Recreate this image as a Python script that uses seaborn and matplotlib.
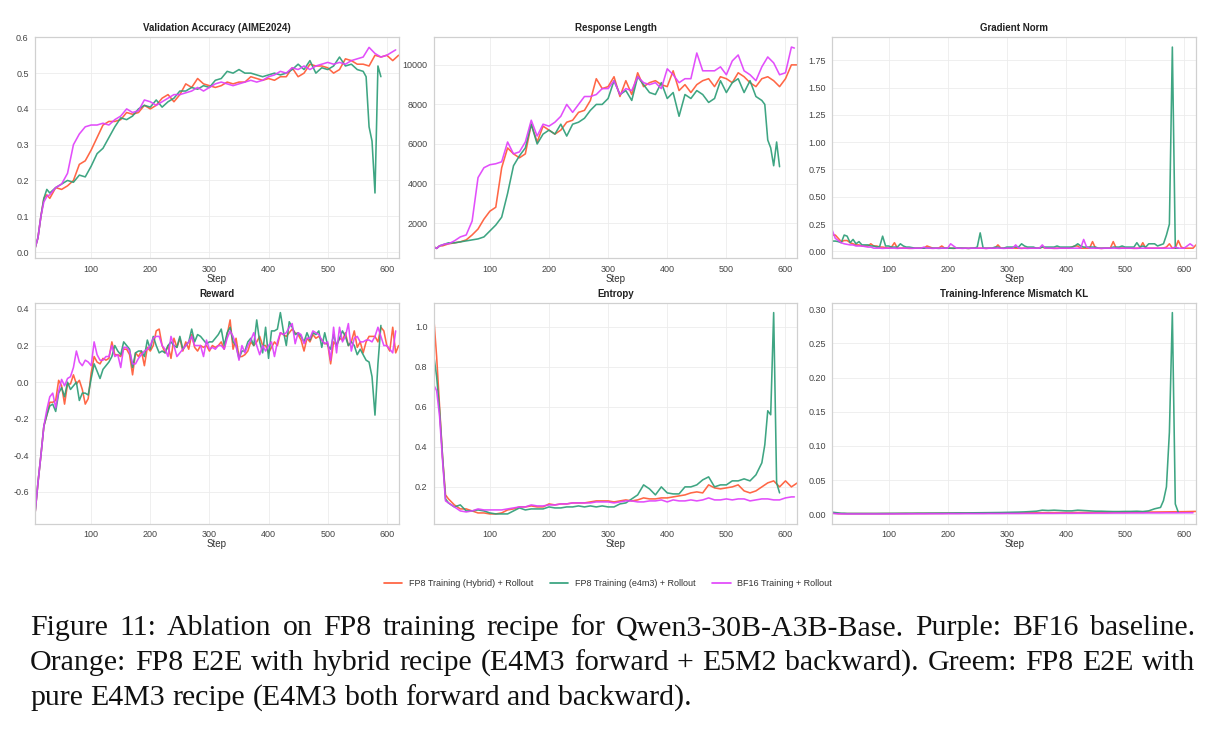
import matplotlib
matplotlib.use("Agg")
import matplotlib.pyplot as plt
from matplotlib.lines import Line2D
import numpy as np
import pandas as pd
import seaborn as sns

# --- DATA ---
RUNS = ["FP8 Training (Hybrid) + Rollout", "FP8 Training (e4m3) + Rollout", "BF16 Training + Rollout"]
COLORS = ["#FF5A36", "#2E9E78", "#E040FB"]

# coarse step grids (every 10 steps, denser at the start / around the green blow-up)
HEAD = [5, 10, 15, 20, 25, 30]
STEPS_HYB = HEAD + list(range(40, 621, 10))
STEPS_E4M3 = HEAD + list(range(40, 561, 10)) + [565, 570, 575, 580, 585, 590]
STEPS_BF16 = HEAD + list(range(40, 611, 10)) + [615]
# fine step grids (every 5 steps)
FINE_HYB = list(range(5, 621, 5))
FINE_E4M3 = list(range(5, 591, 5))
FINE_BF16 = list(range(5, 616, 5))

acc_hyb = [0.01, 0.04, 0.10, 0.15, 0.16, 0.15, 0.18, 0.175, 0.185, 0.20,
           0.245, 0.255, 0.285, 0.32, 0.355, 0.365, 0.365, 0.37, 0.39, 0.385,
           0.39, 0.41, 0.40, 0.41, 0.43, 0.44, 0.42, 0.44, 0.47, 0.46,
           0.485, 0.47, 0.465, 0.46, 0.465, 0.475, 0.47, 0.475, 0.475, 0.49,
           0.485, 0.48, 0.485, 0.48, 0.49, 0.49, 0.515, 0.49, 0.50, 0.525,
           0.52, 0.52, 0.515, 0.50, 0.51, 0.54, 0.535, 0.525, 0.525, 0.52,
           0.55, 0.545, 0.55, 0.535, 0.55]
acc_e4m3 = [0.01, 0.04, 0.10, 0.15, 0.175, 0.165, 0.18, 0.19, 0.20, 0.195,
            0.215, 0.21, 0.24, 0.275, 0.29, 0.32, 0.35, 0.375, 0.37, 0.38,
            0.40, 0.41, 0.405, 0.425, 0.405, 0.42, 0.43, 0.45, 0.45, 0.46,
            0.455, 0.465, 0.46, 0.48, 0.485, 0.505, 0.50, 0.51, 0.50, 0.50,
            0.495, 0.49, 0.495, 0.50, 0.495, 0.50, 0.51, 0.525, 0.51, 0.535,
            0.50, 0.515, 0.51, 0.52, 0.545, 0.52, 0.525, 0.51, 0.505,
            0.49, 0.35, 0.31, 0.165, 0.52, 0.49]
acc_bf16 = [0.01, 0.04, 0.10, 0.14, 0.155, 0.16, 0.18, 0.19, 0.22, 0.30,
            0.33, 0.35, 0.355, 0.355, 0.36, 0.355, 0.37, 0.38, 0.40, 0.39,
            0.395, 0.425, 0.42, 0.41, 0.42, 0.43, 0.44, 0.44, 0.445, 0.45,
            0.46, 0.45, 0.46, 0.47, 0.475, 0.47, 0.465, 0.47, 0.475, 0.48,
            0.475, 0.48, 0.49, 0.495, 0.505, 0.50, 0.515, 0.51, 0.52, 0.51,
            0.52, 0.525, 0.53, 0.525, 0.53, 0.525, 0.535, 0.54, 0.545, 0.572,
            0.555, 0.545, 0.55, 0.56, 0.565]

len_hyb = [800, 720, 850, 850, 900, 950, 1000, 1050, 1150, 1400,
           1700, 2200, 2600, 2800, 4800, 5800, 5500, 5300, 5500, 7000,
           6100, 6900, 6700, 6500, 6700, 7100, 7200, 7600, 7700, 8200,
           9300, 8800, 8900, 9400, 8400, 9200, 8500, 9600, 8900, 9100,
           9200, 9000, 8900, 9700, 8700, 9000, 8600, 9000, 9200, 9300,
           8900, 9400, 9300, 9100, 9600, 9400, 9100, 8900, 9300, 9400,
           9200, 8900, 9300, 10000, 10000]
len_e4m3 = [800, 720, 850, 900, 950, 1000, 1000, 1050, 1100, 1150,
            1200, 1300, 1600, 1900, 2300, 3500, 4900, 5400, 5800, 7000,
            6000, 6500, 6700, 6500, 7000, 6400, 7000, 7100, 7300, 7700,
            8000, 8000, 8300, 9200, 8500, 8700, 8200, 9400, 9000, 8600,
            8500, 9100, 8300, 8600, 7400, 8500, 8300, 8700, 8500, 8100,
            8300, 9200, 8600, 9100, 9300, 8600, 9200, 8400, 8200,
            8000, 6200, 5800, 4900, 6100, 4850]
len_bf16 = [800, 720, 850, 900, 950, 950, 1100, 1300, 1400, 2100,
            4300, 4800, 4950, 5000, 5100, 6100, 5500, 5600, 6100, 7200,
            6400, 7000, 6900, 7100, 7400, 8000, 7600, 8000, 8400, 8400,
            8500, 8800, 8800, 9200, 8500, 8800, 8700, 9400, 9100, 9000,
            9100, 8800, 9800, 9500, 9100, 9300, 9300, 10600, 9700, 9700,
            9700, 9900, 9500, 10200, 10500, 9700, 9500, 9200, 9900, 10400,
            10100, 9500, 9600, 10900, 10850]

gn_hyb = [0.15, 0.15, 0.12, 0.09, 0.10, 0.10, 0.08, 0.07, 0.06, 0.06,
          0.05, 0.05, 0.05, 0.07, 0.05, 0.05, 0.04, 0.04, 0.035, 0.03,
          0.04, 0.08, 0.03, 0.03, 0.032, 0.03, 0.028, 0.03, 0.03, 0.03,
          0.03, 0.03, 0.05, 0.04, 0.03, 0.03, 0.032, 0.05, 0.03, 0.03,
          0.03, 0.028, 0.03, 0.03, 0.03, 0.03, 0.028, 0.03, 0.032, 0.03,
          0.03, 0.03, 0.028, 0.03, 0.03, 0.03, 0.06, 0.03, 0.03, 0.03,
          0.03, 0.032, 0.03, 0.03, 0.028, 0.03, 0.03, 0.03, 0.032, 0.03,
          0.03, 0.04, 0.03, 0.03, 0.03, 0.028, 0.03, 0.03, 0.03, 0.03,
          0.03, 0.04, 0.05, 0.05, 0.03, 0.03, 0.03, 0.03, 0.09, 0.03,
          0.03, 0.028, 0.03, 0.03, 0.03, 0.09, 0.03, 0.03, 0.032, 0.03,
          0.03, 0.03, 0.028, 0.03, 0.03, 0.08, 0.03, 0.03, 0.03, 0.03,
          0.03, 0.03, 0.032, 0.04, 0.07, 0.03, 0.03, 0.10, 0.04, 0.03,
          0.03, 0.03, 0.03, 0.06]
gn_e4m3 = [0.095, 0.095, 0.09, 0.08, 0.15, 0.14, 0.08, 0.11, 0.07, 0.09,
           0.06, 0.06, 0.06, 0.05, 0.05, 0.04, 0.045, 0.14, 0.05, 0.05,
           0.04, 0.04, 0.04, 0.07, 0.05, 0.04, 0.04, 0.035, 0.03, 0.03,
           0.03, 0.03, 0.032, 0.03, 0.03, 0.03, 0.028, 0.03, 0.03, 0.03,
           0.03, 0.03, 0.03, 0.032, 0.03, 0.03, 0.028, 0.03, 0.03, 0.04,
           0.17, 0.03, 0.03, 0.03, 0.03, 0.04, 0.04, 0.03, 0.03, 0.04,
           0.04, 0.04, 0.04, 0.04, 0.07, 0.05, 0.04, 0.04, 0.04, 0.03,
           0.03, 0.04, 0.04, 0.04, 0.04, 0.04, 0.05, 0.04, 0.04, 0.04,
           0.04, 0.04, 0.05, 0.07, 0.05, 0.04, 0.04, 0.04, 0.04, 0.04,
           0.03, 0.03, 0.03, 0.03, 0.03, 0.04, 0.04, 0.04, 0.05, 0.04,
           0.04, 0.04, 0.04, 0.08, 0.04, 0.05, 0.04, 0.07, 0.07, 0.07,
           0.05, 0.06, 0.07, 0.15, 0.25, 1.87, 0.03, 0.03]
gn_bf16 = [0.19, 0.12, 0.10, 0.08, 0.07, 0.065, 0.06, 0.06, 0.05, 0.05,
           0.05, 0.045, 0.04, 0.04, 0.03, 0.03, 0.03, 0.028, 0.03, 0.03,
           0.03, 0.03, 0.028, 0.03, 0.03, 0.03, 0.03, 0.028, 0.03, 0.03,
           0.03, 0.04, 0.03, 0.03, 0.028, 0.03, 0.03, 0.03, 0.03, 0.03,
           0.07, 0.05, 0.03, 0.03, 0.028, 0.03, 0.03, 0.03, 0.03, 0.03,
           0.03, 0.03, 0.028, 0.03, 0.03, 0.03, 0.03, 0.03, 0.028, 0.03,
           0.03, 0.03, 0.06, 0.03, 0.03, 0.03, 0.028, 0.03, 0.03, 0.03,
           0.03, 0.06, 0.03, 0.03, 0.03, 0.03, 0.028, 0.03, 0.03, 0.03,
           0.03, 0.03, 0.03, 0.03, 0.03, 0.11, 0.04, 0.03, 0.03, 0.03,
           0.03, 0.028, 0.03, 0.03, 0.03, 0.03, 0.03, 0.028, 0.03, 0.03,
           0.03, 0.03, 0.03, 0.028, 0.03, 0.03, 0.03, 0.03, 0.03, 0.03,
           0.03, 0.03, 0.03, 0.03, 0.03, 0.03, 0.04, 0.03, 0.03, 0.03,
           0.05, 0.07, 0.05]

rew_hyb = [-0.72, -0.55, -0.40, -0.24, -0.18, -0.11, -0.11, -0.10, 0.01, -0.02,
           -0.12, -0.01, -0.01, 0.04, -0.01, 0.01, -0.04, -0.12, -0.09, 0.05,
           0.14, 0.11, 0.10, 0.13, 0.12, 0.13, 0.22, 0.15, 0.15, 0.14,
           0.18, 0.18, 0.15, 0.04, 0.16, 0.14, 0.17, 0.09, 0.19, 0.17,
           0.20, 0.28, 0.29, 0.20, 0.16, 0.20, 0.13, 0.24, 0.19, 0.24,
           0.17, 0.22, 0.18, 0.26, 0.19, 0.17, 0.20, 0.19, 0.20, 0.17,
           0.20, 0.19, 0.20, 0.22, 0.18, 0.26, 0.34, 0.18, 0.24, 0.14,
           0.14, 0.15, 0.17, 0.22, 0.20, 0.22, 0.25, 0.20, 0.20, 0.16,
           0.19, 0.22, 0.20, 0.27, 0.26, 0.25, 0.27, 0.29, 0.27, 0.26,
           0.23, 0.17, 0.24, 0.22, 0.26, 0.24, 0.25, 0.23, 0.21, 0.21,
           0.10, 0.22, 0.20, 0.24, 0.23, 0.27, 0.20, 0.22, 0.28, 0.19,
           0.22, 0.16, 0.22, 0.25, 0.25, 0.25, 0.22, 0.30, 0.28, 0.20,
           0.17, 0.30, 0.16, 0.20]
rew_e4m3 = [-0.72, -0.55, -0.40, -0.24, -0.18, -0.13, -0.12, -0.16, -0.06, -0.03,
            -0.08, 0.00, -0.04, -0.02, 0.00, -0.10, -0.06, -0.06, -0.07, 0.02,
            0.10, 0.06, 0.02, 0.07, 0.09, 0.11, 0.14, 0.20, 0.17, 0.15,
            0.22, 0.20, 0.18, 0.08, 0.16, 0.17, 0.17, 0.14, 0.23, 0.18,
            0.25, 0.20, 0.16, 0.17, 0.16, 0.20, 0.22, 0.20, 0.19, 0.25,
            0.18, 0.20, 0.22, 0.29, 0.22, 0.26, 0.25, 0.23, 0.21, 0.22,
            0.22, 0.24, 0.26, 0.29, 0.20, 0.27, 0.30, 0.22, 0.20, 0.13,
            0.17, 0.17, 0.22, 0.24, 0.20, 0.34, 0.22, 0.16, 0.30, 0.13,
            0.28, 0.28, 0.29, 0.38, 0.28, 0.20, 0.33, 0.30, 0.26, 0.27,
            0.25, 0.22, 0.27, 0.23, 0.27, 0.26, 0.28, 0.19, 0.27, 0.20,
            0.18, 0.26, 0.20, 0.24, 0.28, 0.25, 0.20, 0.22, 0.20, 0.15,
            0.18, 0.15, 0.12, 0.11, 0.03, -0.18, 0.10, 0.31]
rew_bf16 = [-0.72, -0.55, -0.40, -0.24, -0.15, -0.08, -0.06, -0.14, -0.05, 0.015,
            -0.02, 0.02, 0.03, 0.08, 0.17, 0.11, 0.09, 0.12, 0.11, 0.09,
            0.22, 0.15, 0.12, 0.12, 0.14, 0.14, 0.20, 0.14, 0.15, 0.08,
            0.19, 0.19, 0.17, 0.10, 0.10, 0.13, 0.15, 0.17, 0.18, 0.20,
            0.24, 0.25, 0.25, 0.20, 0.18, 0.14, 0.25, 0.20, 0.14, 0.16,
            0.18, 0.20, 0.22, 0.25, 0.20, 0.20, 0.20, 0.14, 0.23, 0.18,
            0.19, 0.18, 0.20, 0.20, 0.18, 0.24, 0.28, 0.25, 0.20, 0.12,
            0.20, 0.16, 0.20, 0.23, 0.27, 0.20, 0.15, 0.20, 0.17, 0.20,
            0.22, 0.14, 0.22, 0.27, 0.26, 0.27, 0.30, 0.32, 0.21, 0.27,
            0.26, 0.21, 0.24, 0.24, 0.28, 0.27, 0.26, 0.23, 0.21, 0.22,
            0.12, 0.30, 0.16, 0.30, 0.22, 0.25, 0.32, 0.17, 0.24, 0.25,
            0.22, 0.22, 0.23, 0.23, 0.22, 0.25, 0.30, 0.25, 0.20, 0.20,
            0.18, 0.16, 0.28]

ent_hyb = [1.05, 0.85, 0.60, 0.35, 0.16, 0.14, 0.11, 0.09, 0.09, 0.08,
           0.07, 0.07, 0.065, 0.065, 0.07, 0.085, 0.09, 0.10, 0.10, 0.105,
           0.10, 0.10, 0.115, 0.11, 0.115, 0.115, 0.12, 0.12, 0.12, 0.125,
           0.13, 0.13, 0.13, 0.125, 0.13, 0.135, 0.13, 0.135, 0.145, 0.14,
           0.14, 0.145, 0.145, 0.15, 0.155, 0.16, 0.17, 0.175, 0.17, 0.21,
           0.195, 0.19, 0.195, 0.20, 0.21, 0.18, 0.17, 0.18, 0.20, 0.22,
           0.23, 0.20, 0.23, 0.20, 0.22]
ent_e4m3 = [0.86, 0.75, 0.58, 0.35, 0.14, 0.12, 0.10, 0.11, 0.08, 0.08,
            0.085, 0.08, 0.07, 0.065, 0.065, 0.065, 0.08, 0.095, 0.085, 0.09,
            0.09, 0.09, 0.10, 0.095, 0.095, 0.10, 0.10, 0.105, 0.10, 0.105,
            0.10, 0.105, 0.10, 0.10, 0.115, 0.12, 0.14, 0.16, 0.21, 0.19,
            0.16, 0.20, 0.17, 0.165, 0.165, 0.20, 0.20, 0.21, 0.235, 0.25,
            0.20, 0.21, 0.21, 0.23, 0.23, 0.24, 0.23, 0.26, 0.32,
            0.41, 0.58, 0.56, 1.07, 0.22, 0.17]
ent_bf16 = [0.71, 0.68, 0.55, 0.33, 0.13, 0.12, 0.10, 0.08, 0.075, 0.08,
            0.09, 0.085, 0.085, 0.085, 0.085, 0.09, 0.095, 0.10, 0.10, 0.11,
            0.105, 0.105, 0.11, 0.11, 0.115, 0.115, 0.12, 0.12, 0.12, 0.12,
            0.125, 0.125, 0.125, 0.12, 0.125, 0.13, 0.13, 0.125, 0.125, 0.13,
            0.13, 0.135, 0.125, 0.135, 0.13, 0.13, 0.135, 0.13, 0.135, 0.145,
            0.135, 0.135, 0.14, 0.135, 0.14, 0.14, 0.13, 0.135, 0.14, 0.14,
            0.135, 0.135, 0.145, 0.15, 0.15]

kl_hyb = [0.002, 0.0015, 0.001, 0.001, 0.001, 0.001, 0.001, 0.001, 0.001, 0.001,
          0.001, 0.001, 0.0011, 0.001, 0.0012, 0.0012, 0.0012, 0.0013, 0.0013, 0.0013,
          0.0014, 0.0014, 0.0015, 0.0015, 0.0015, 0.0016, 0.0016, 0.0017, 0.0017, 0.0018,
          0.0018, 0.0019, 0.002, 0.002, 0.002, 0.0021, 0.0022, 0.0022, 0.0023, 0.0023,
          0.0024, 0.0024, 0.0025, 0.0025, 0.0026, 0.0026, 0.0027, 0.0027, 0.0028, 0.0028,
          0.0029, 0.003, 0.003, 0.003, 0.0031, 0.0032, 0.0032, 0.0033, 0.0034, 0.0035,
          0.0036, 0.0037, 0.0038, 0.004, 0.0042]
kl_e4m3 = [0.003, 0.0025, 0.002, 0.0015, 0.0015, 0.0012, 0.0012, 0.0012, 0.0012, 0.0012,
           0.0012, 0.0013, 0.0013, 0.0014, 0.0014, 0.0015, 0.0015, 0.0016, 0.0016, 0.0017,
           0.0017, 0.0018, 0.0018, 0.0019, 0.002, 0.002, 0.0021, 0.0022, 0.0023, 0.0024,
           0.0025, 0.0026, 0.0028, 0.003, 0.0032, 0.0035, 0.004, 0.0045, 0.006, 0.0055,
           0.006, 0.0055, 0.005, 0.005, 0.006, 0.0055, 0.005, 0.0045, 0.0045, 0.0042,
           0.004, 0.004, 0.0042, 0.0042, 0.0045, 0.004, 0.005, 0.008, 0.010,
           0.02, 0.04, 0.12, 0.295, 0.015, 0.003]
kl_bf16 = [0.0015, 0.001, 0.0008, 0.0006, 0.0005, 0.0005, 0.0005, 0.0005, 0.0005, 0.0005,
           0.0005, 0.0005, 0.0005, 0.0006, 0.0006, 0.0006, 0.0007, 0.0007, 0.0007, 0.0008,
           0.0008, 0.0008, 0.0009, 0.0009, 0.0009, 0.001, 0.001, 0.001, 0.001, 0.0011,
           0.0011, 0.0011, 0.0012, 0.0012, 0.0012, 0.0013, 0.0013, 0.0013, 0.0014, 0.0014,
           0.0014, 0.0015, 0.0015, 0.0015, 0.0016, 0.0016, 0.0016, 0.0017, 0.0017, 0.0017,
           0.0018, 0.0018, 0.0018, 0.0019, 0.0019, 0.0019, 0.002, 0.002, 0.002, 0.0021,
           0.0021, 0.0021, 0.0022, 0.0022, 0.0022]

CAPTION = [
    "Figure 11: Ablation on FP8 training recipe for Qwen3-30B-A3B-Base. Purple: BF16 baseline.",
    "Orange: FP8 E2E with hybrid recipe (E4M3 forward + E5M2 backward). Greem: FP8 E2E with",
    "pure E4M3 recipe (E4M3 both forward and backward).",
]


def to_long(steps_list, values_list):
    frames = []
    for run, steps, vals in zip(RUNS, steps_list, values_list):
        frames.append(pd.DataFrame({"Step": steps, "Value": vals, "Run": run}))
    return pd.concat(frames, ignore_index=True)


coarse = [STEPS_HYB, STEPS_E4M3, STEPS_BF16]
fine = [FINE_HYB, FINE_E4M3, FINE_BF16]
panels = [
    ("Validation Accuracy (AIME2024)", to_long(coarse, [acc_hyb, acc_e4m3, acc_bf16])),
    ("Response Length", to_long(coarse, [len_hyb, len_e4m3, len_bf16])),
    ("Gradient Norm", to_long(fine, [gn_hyb, gn_e4m3, gn_bf16])),
    ("Reward", to_long(fine, [rew_hyb, rew_e4m3, rew_bf16])),
    ("Entropy", to_long(coarse, [ent_hyb, ent_e4m3, ent_bf16])),
    ("Training-Inference Mismatch KL", to_long(coarse, [kl_hyb, kl_e4m3, kl_bf16])),
]

sns.set_style("whitegrid", {"grid.color": "#ececec", "axes.edgecolor": "#d0d0d0"})
plt.rcParams["font.family"] = ["Liberation Sans", "DejaVu Sans"]
plt.rcParams["axes.unicode_minus"] = False

W, H = 1216, 730
fig, axes = plt.subplots(2, 3, figsize=(W / 100, H / 100), dpi=100)
fig.subplots_adjust(left=35 / W, right=1196 / W, top=1 - 37 / H,
                    bottom=1 - 524 / H, wspace=0.0964, hspace=0.199)

palette = dict(zip(RUNS, COLORS))
for ax, (title, df) in zip(axes.flat, panels):
    sns.lineplot(data=df, x="Step", y="Value", hue="Run", palette=palette,
                 estimator=None, linewidth=1.15, alpha=0.92, legend=False, ax=ax)
    ax.set_title(title, fontsize=7, fontweight="bold", color="#222222", pad=4)
    ax.set_xlim(5, 620)
    ax.set_xticks([100, 200, 300, 400, 500, 600])
    ax.tick_params(labelsize=6.5, colors="#444444", pad=1)
    ax.set_ylabel("")
    ax.set_xlabel("Step", fontsize=7, color="#333333", labelpad=0)
    ax.grid(linewidth=0.6)
    for sp in ax.spines.values():
        sp.set_linewidth(0.9)
axes[0, 0].set_ylim(-0.018, 0.601)

handles = [Line2D([0], [0], color=c, lw=1.2) for c in COLORS]
fig.legend(handles, RUNS, loc="center", bbox_to_anchor=(0.5, 1 - 584 / H),
           ncol=3, frameon=False, fontsize=6.5, columnspacing=1.9, handlelength=2.0,
           handletextpad=0.7, labelcolor="#333333")

# caption, justified like the paper text (last line left-aligned)
renderer = fig.canvas.get_renderer()
cap_kw = dict(fontsize=21.5, family=["Liberation Serif", "DejaVu Serif"],
              va="center", ha="left", color="#111111")
x_left, x_right = 30, 1195
probe_a = fig.text(0, 0, "a a", **cap_kw)
probe_b = fig.text(0, 0, "aa", **cap_kw)
space_w = probe_a.get_window_extent(renderer).width - probe_b.get_window_extent(renderer).width
probe_a.remove()
probe_b.remove()
for i, line in enumerate(CAPTION):
    y = 1 - (628 + 35 * i) / H
    words = line.split(" ")
    texts = [fig.text(0, y, w, **cap_kw) for w in words]
    widths = [t.get_window_extent(renderer).width for t in texts]
    if i < len(CAPTION) - 1:
        gap = (x_right - x_left - sum(widths)) / (len(words) - 1)
    else:
        gap = space_w
    x = x_left
    for t, w in zip(texts, widths):
        t.set_x(x / W)
        x += w + gap

fig.savefig("out.png", dpi=100)
